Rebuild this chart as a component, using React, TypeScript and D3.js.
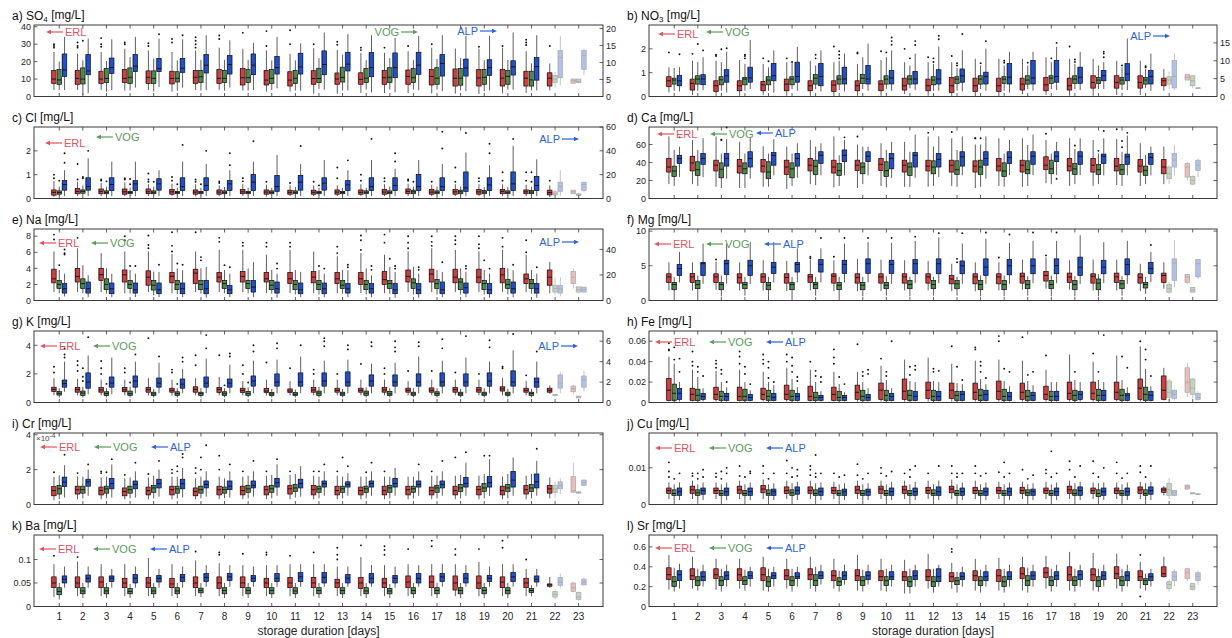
import React from 'react';
import * as d3 from 'd3';

// storage days and the three sampling sites
const days = [1, 2, 3, 4, 5, 6, 7, 8, 9, 10, 11, 12, 13, 14, 15, 16, 17, 18, 19, 20, 21, 22, 23];
const groups = ['ERL', 'VOG', 'ALP'];
// boxes drawn pale (few samples)
const fadedDays = { ERL: [23], VOG: [22, 23], ALP: [22, 23] };

// every box: [whiskerLow, q1, median, q3, whiskerHigh, ...outliers]
const so4ERL = [[3.8,7.5,10,15,25.5,28,29,30],[3.8,7,10.4,15,24.5,28,29,31],[3.8,7.5,10,14.5,25.5,28.5,30,33.5],[3.4,8,10.4,15.5,27.4,30,31],[3.8,7.5,11,14.7,26.4,29,30.5],[2.8,7.2,10.4,14.5,25.5,31,33],[3.8,7.5,11,15,26.4,28,30,32,34],[3.8,7.5,10.4,15.5,28,33,35],[3.4,6.6,10.8,16,27.4,36.5],[2.8,6.6,9.4,15,26.4,29,37.5],[2.8,6,9.4,14.2,24.5,30,38],[1.6,7,10.3,14.8,27.7,30],[1.6,7,10,13.5,26.7,29.7,31.4],[2,7,9.8,13.6,25,26.6,28],[2,7,10.8,15,25,28],[2,7,11.5,15.2,26,29],[1.7,6.6,11.5,15.5,28,30],[1.6,6,10.5,15.8,27.5],[1.5,6,10.6,15.5,27.4,28.5],[1.8,6,10.5,15.6,28,29],[2,6,10.5,14.5,26,29.5,31,32.5],[3.5,6,10.5,13.6,19,29],[7.6,7.6,9,10,10.4]];
const so4VOG = [[3.8,7,9.5,15.5,20],[1,7.2,10,16.4,20.7,32],[2.8,8,10.4,16,20.4],[3.4,7.5,11,16.4,22.6],[2.8,7.5,10.4,14.7,21.7],[3.4,8.3,10.4,14.2,20.7],[3.4,8,11.3,15,21],[3.4,8,10.4,15,21],[3.4,8,10.8,15.5,21],[3.8,7.5,10.4,15.5,20.7],[3.4,7.5,10.4,15,20.7],[4.4,8,10.3,16.2,22],[3.5,8.3,10.9,16.8,24],[4,8,10.5,16,20.8],[4,8,11,16.5,22],[4,8,10.8,16,21],[4,7,10.5,16.5,21.5],[3.5,6.5,10.5,16,22],[3,7,11,15.5,20.8],[4,7,11.5,15,21],[3.5,6,9.5,14.5,19],[5,8,10,12,14],[7.6,8,8.6,10,10]];
const so4ALP = [[1.9,5.9,7.8,12.5,17.5],[1,6.4,7.5,12.3,17],[1.9,6.8,8.5,11.3,16.8],[2.6,7.3,8.9,12.3,17.5],[2.8,7.3,8.2,11.2,17,18.3],[2.6,7.1,8.3,11.2,16.8,18],[1.9,6.9,9.2,12.3,18],[2.6,6.6,9.4,12,16.5],[1.9,6.4,9.2,12.5,15.8],[2.4,6.6,8.5,11.8,17.5],[1.7,6.6,8.7,12.7,15.6],[2,6.4,9.4,13.4,18.8],[1.8,7.5,9.5,13,18.3],[1.2,5.8,8.5,12.9,18],[1.2,5.5,8.5,12.8,17.2],[1.8,6.5,9.2,13,17.8],[1.6,6,9.7,12.3,18],[1.6,6,8.4,11,17.8],[1.8,6.2,8.5,10.8,17.8],[2,6.3,8.7,10.5,18.8],[1.8,4.8,8.8,11.5,18],[3.3,5.5,11.5,13.5,17.8],[6.2,8,12,13.5,14]];

const no3ERL = [[0.17,0.41,0.66,0.83,1.22,1.85],[0.07,0.27,0.55,0.73,1.5,1.79],[0,0.21,0.45,0.66,1.5,1.7,1.75],[0.03,0.24,0.45,0.66,1.53],[0.07,0.24,0.49,0.63,1.37,1.6],[0.03,0.24,0.52,0.73,1.44,1.6],[0.03,0.24,0.45,0.66,1.5],[0,0.21,0.48,0.66,1.44,2.1],[0.03,0.24,0.45,0.66,1.37,1.8,1.85],[0.03,0.24,0.52,0.66,1.53,1.9],[0.1,0.27,0.45,0.77,1.44,2],[0.03,0.24,0.45,0.73,1.44,1.65],[0.03,0.17,0.45,0.8,1.44,1.7],[0,0.21,0.45,0.77,1.58],[0,0.21,0.45,0.77,1.58],[0.1,0.27,0.52,0.77,1.58],[0.07,0.24,0.49,0.8,1.65],[0.03,0.27,0.45,0.77,1.58,2.1],[0.03,0.35,0.59,0.87,1.58],[0.07,0.35,0.59,0.87,1.5],[0.07,0.35,0.59,0.87,1.5],[0.24,0.45,0.66,0.77,1.15],[0.69,0.69,0.8,0.92,0.92]];
const no3VOG = [[0.24,0.52,0.69,0.77,1.2],[0.24,0.52,0.73,0.87,1.44,2.2],[0.24,0.49,0.7,0.83,1.44,1.98],[0.24,0.49,0.73,0.8,1.37,1.6,1.7,1.75],[0.24,0.49,0.69,0.83,1.22,1.48],[0.31,0.49,0.73,0.83,1.4,1.45],[0.31,0.52,0.77,0.92,1.3,1.6,1.75],[0.27,0.52,0.73,0.87,1.5,1.6,1.75,1.9],[0.31,0.55,0.77,0.92,1.65],[0.31,0.52,0.73,0.87,1.65,1.85],[0.35,0.52,0.73,0.87,1.3,1.6],[0.24,0.49,0.69,0.83,1.37,1.45,1.6],[0.24,0.55,0.73,0.83,1.2,1.3,1.4],[0.31,0.52,0.73,0.87,1.3,1.4],[0.24,0.55,0.73,0.83,1.3,1.42,1.5],[0.31,0.52,0.69,0.87,1.3,1.42],[0.31,0.55,0.77,0.87,1.44,1.6],[0.31,0.55,0.73,0.87,1.37,1.45,1.55],[0.31,0.55,0.69,0.8,1.3],[0.27,0.52,0.69,0.8,1.22,1.3],[0.35,0.52,0.69,0.8,1.15,1.22,1.27],[0.31,0.52,0.69,0.83,1.05],[0.35,0.45,0.66,0.87,0.87]];
const no3ALP = [[1.4,3,4.4,5.85,8.2,11.8],[1.8,3.3,4.9,6.1,11,12.9],[1.1,4,5.8,7.5,12.5,13.5],[2.1,4,5.2,8.2,15.8],[1.1,4.4,5.8,9.2,12.9],[1.6,4,5.6,9.6,13.9],[1.4,3,5.6,9.2,12.9],[1.4,3.5,4.9,8.2,12],[1.6,3.5,4.9,8.7,14.8],[1.6,3.5,5.2,7.3,12.9,14.5,15.5,16.5],[1.8,3.5,4.9,7,12,14.4,15.5],[1.6,3.5,4.9,7.5,13.9,16,17],[1.4,4,5.8,7.7,12.9,17.5],[1.6,3.5,5.6,6.8,13.4,15.5],[1.1,3.5,5.4,9.2,12.5],[1.6,3.5,5.2,10.1,12.5],[1.8,4,5.6,10.1,13.9,15],[1.8,3.7,5.4,8.2,12.5],[2.1,4.4,5.8,7.3,9.6,11,12,12.5],[1.8,4.4,6.3,9.2,16.2],[1.6,3.5,5.6,7.3,12],[1.8,2.4,5.6,10.1,12],[2.2,2.3,2.4,2.4,2.5]];

const clERL = [[0.07,0.14,0.26,0.36,0.73,0.85,1],[0.1,0.2,0.3,0.42,0.7,0.8,1.45],[0.1,0.2,0.3,0.4,0.65,0.75,0.8],[0.1,0.18,0.28,0.4,0.68,0.8,0.85],[0.1,0.2,0.28,0.4,0.6,0.7,0.8,1.05],[0.1,0.18,0.28,0.38,0.62,0.75,0.9],[0.08,0.18,0.27,0.36,0.6,0.7,0.8],[0.1,0.18,0.27,0.36,0.55,0.65,0.72],[0.1,0.2,0.28,0.38,0.6,0.72,0.85],[0.08,0.18,0.27,0.36,0.58,0.7],[0.1,0.18,0.26,0.35,0.55,0.65],[0.1,0.18,0.26,0.35,0.55,0.7],[0.1,0.18,0.27,0.36,0.55,0.85,1.3],[0.1,0.18,0.26,0.36,0.6,0.75,1],[0.1,0.18,0.27,0.38,0.6,0.72,0.85],[0.1,0.2,0.3,0.4,0.62,0.75,0.8],[0.1,0.18,0.27,0.38,0.58,0.7],[0.1,0.18,0.28,0.38,0.6,0.7,1.3],[0.1,0.18,0.28,0.38,0.6,0.72,0.85],[0.1,0.2,0.3,0.38,0.6,0.75,1.1],[0.1,0.2,0.28,0.36,0.58,0.75,1.1],[0.05,0.15,0.25,0.35,0.55,0.75],[0.2,0.2,0.28,0.35,0.35]];
const clVOG = [[0.12,0.18,0.25,0.32,0.5,0.75],[0.15,0.22,0.3,0.36,0.55,0.85,0.9],[0.12,0.2,0.26,0.32,0.5,0.72],[0.12,0.2,0.25,0.3,0.45,0.6,0.82],[0.12,0.2,0.26,0.32,0.5,0.7],[0.12,0.2,0.25,0.3,0.45,0.6],[0.12,0.2,0.26,0.3,0.45,0.6],[0.12,0.2,0.26,0.32,0.48],[0.12,0.2,0.25,0.3,0.45],[0.12,0.2,0.26,0.32,0.45],[0.12,0.2,0.26,0.32,0.48],[0.12,0.2,0.25,0.3,0.45,0.55],[0.12,0.2,0.25,0.3,0.45],[0.12,0.2,0.26,0.32,0.45],[0.12,0.2,0.26,0.32,0.5],[0.12,0.2,0.28,0.35,0.5,0.7],[0.12,0.2,0.26,0.32,0.5],[0.12,0.2,0.28,0.35,0.5],[0.12,0.2,0.27,0.33,0.48],[0.12,0.2,0.26,0.32,0.48],[0.12,0.2,0.27,0.33,0.5,0.7,1.1],[0.1,0.15,0.2,0.28,0.35],[0.1,0.12,0.15,0.2,0.22]];
const clALP = [[2,7,11.7,15,23.7,30,38],[2,7,10,17.4,33.7,40],[2,6.6,11.7,17.4,30.9],[2,6.6,12.3,15,30.9],[2,7,12.3,16.6,23.7],[2,6.6,10,17.4,30.9,45],[2,6.6,10.9,17.4,28.9,40],[2,6.6,12.3,15,23.7,28,38],[2,6.6,13.7,20.3,30.9,48],[2,6,10,19.4,36.6],[2,7,13.7,19.4,28.9,44],[2,7,12.9,17.4,32.3],[2,6.6,11.4,15,23.7,32],[2,6.6,10,17.4,32.3,50],[2,6.6,10.9,17.4,25,31,38],[2,6.6,10,20.3,32.3],[2,6.6,10,17.4,28.9,42,56],[2,6,8.9,22.3,38.6,55],[2,6.6,11.4,17.4,28,38,46],[2,6.6,12.3,22.3,44.3,50],[2,6.6,10.9,18.6,32.9],[2.3,6,10,13.7,23.7],[5,6.6,11.7,13.7,14]];

const caERL = [[16,29.4,35,44.5,69],[16,30.6,39.6,47,65],[13,30.6,37,42.6,69],[11.7,28.3,36,43.4,63],[13,29.4,36,43.4,58],[10.6,26.8,35,42.6,57.7],[16,30.6,37,44.5,65],[12.5,28.3,35,42.6,69],[11.7,31,37,42.6,60,69],[14,31,38,44.5,61.5],[13,29.4,37,42.6,63],[13,30.6,36,42.6,69,73],[14,29.4,37,42.6,67,74],[11.7,29.4,36,41.9,60,67,67],[14,30.6,36,44.5,67],[13,29.4,37,42.6,67],[17,32,37,46.4,65,72],[14,30.6,36,44.5,67],[14,29.4,37,44.5,65],[15,30.6,36,44.5,66,77],[14,29.4,36,43.4,61.5],[16,27.5,35,43.4,57.7],[20,23.8,35,38.9,40.8]];
const caVOG = [[14,24.5,30.6,36,54],[14,25.7,32,40.8,54],[11.7,23,32.5,39.6,50,65,65.5],[11.7,27.5,33,39.6,50],[13,22,29.4,40.8,50],[14,23,33,39.6,50],[15,26.8,35.8,42.6,57.7],[14,25.7,31,38.9,48],[16,27.5,35,39.6,57.7],[12.5,24.5,31,40.8,54],[13,25.7,35,39.6,52],[14,27.5,35,41.9,57.7],[13,26.8,32,41.9,54],[13,26.8,35,42.6,60,67],[13,24.5,30.6,39.6,50],[14,27.5,32,41.9,59.6],[16,27.5,33,42.6,50],[16,26.8,33,38.9,55,59],[16,26.8,32,38,50,53],[14,26.8,32,38,52,57,64],[16,25.7,31.3,36,48.3],[16,22,27.5,35,37],[15,16,20,24.5,25.7]];
const caALP = [[23.8,39,44.5,48,57.7,68],[23.8,38,44.5,50,67],[22,36,44.5,50,66,79],[22,35,44.5,52,68],[25.7,37,48,51,66],[23,36,44.5,50,61.5],[25.7,39,48,52,61.5],[25.7,41,48,54,65,68],[25.7,41,47,52,57.7],[23,33,44.5,50,63],[23,35,48,51,71],[24,35,43.4,50,69],[25.7,36,46.4,52,69],[22,37,44.5,52,69],[26,39,45.7,52,65],[26,38,47,52,71],[26,41,47,52,63,22],[26,38,47,52,67],[25.7,39,47,49.4,67,75],[25.7,38,46.4,49.4,70,73],[25.7,38,45.7,50,57.7],[25.7,35,42.6,50,59.6],[23.8,31.3,37,42.6,44.5]];

const naERL = [[1.05,2.2,2.7,3.9,6.1,7.6,8.2],[1.05,2.3,3,4,6.5,7.8],[1.05,2.5,3.2,4,5.9],[0.9,2.3,3.2,3.8,6.1,7.5,8],[1.05,1.9,2.9,3.7,6.1,6.5,6.9,8.1],[0.9,2.2,3,3.5,5.8,6.1,6.8,8.5],[1.05,2.1,3.4,3.9,6.1,8.5],[1.05,2.3,2.9,3.5,6.3,7.3,7.8],[1.05,2.3,3,3.6,6.3,6.8,7.2],[0.9,2.3,2.7,3.5,5.7,6.7,7.2],[0.9,2.1,2.7,3.5,6.3,6.7,7.2],[0.9,2.2,2.9,3.6,6.1],[0.9,2.1,2.7,3.5,5.5,5.9,6.7],[0.9,2,2.7,3.5,5.9,6.3,7.5,8.1],[0.9,2,2.6,3.6,5.7,7.2,8.2],[1.05,2.3,3,3.8,6.1,6.5,7.2,8],[1.05,2.3,3.3,3.9,6.5,6.8,7.3,8],[1.05,2.2,2.9,3.9,6.3,7,7.5,8],[1.05,2.2,2.9,3.9,6.1,6.5,7,8],[1.05,2.2,3.2,4,6.3,6.7,7.8],[1.05,2.1,2.7,3.3,5.7,6,7.5],[0.9,1.9,2.9,3.8,4.8],[1.5,2.1,2.9,3.6,4]];
const naVOG = [[0.9,1.5,2,2.5,3.8,4.4],[0.9,1.5,2.1,2.7,4.4],[0.85,1.35,2,2.7,4],[0.85,1.5,2,2.5,3.8,4.3],[0.65,1.3,1.9,2.5,3.6],[0.8,1.35,2,2.5,4,4.6],[0.85,1.35,2,2.5,4,5,5.4],[0.9,1.5,2.1,2.5,3.8,4.4],[0.9,1.5,2.1,2.5,4],[0.85,1.35,1.9,2.5,3.8],[0.75,1.35,2,2.5,3.8],[0.75,1.35,2,2.5,3.8,4.3],[0.85,1.5,1.9,2.5,3.8],[0.75,1.35,2,2.5,4],[0.85,1.5,2.1,2.5,4.2,5.2],[0.75,1.5,2.2,2.7,4.2],[0.75,1.5,2.1,2.6,3.8],[0.75,1.35,2.3,2.7,4],[0.75,1.35,2.1,2.5,3.8,5],[0.75,1.5,2,2.6,4],[0.85,1.5,2.1,2.6,3.8],[0.65,1.05,1.5,1.9,2.9],[1,1.05,1.35,1.7,1.7]];
const naALP = [[3.2,5.8,9.2,13.2,21,36,37,40],[2.6,5.8,9.2,14.5,19.7],[2.6,5.3,9.2,13.7,21],[2.6,5.8,8.4,13.7,21,27],[2.6,5.3,8.4,13.7,22.4,28],[2.6,5.3,9.2,13.7,23.7,28],[2.1,5.3,9.2,15.8,26.3],[2.6,5.3,8.4,11.8,21,26],[2.6,6.6,10.5,15.8,30],[2.1,5.8,9.2,14.5,21,25,29],[2.6,5.3,8.4,13.7,22.4],[2.6,5.3,9.2,13.7,21,25],[2.6,5.8,9.2,13.2,23.7,26,28],[2.6,5.8,9.2,13.2,19.7,24,27],[2.1,5.3,8.4,13.2,22.4,25,27],[2.1,5.3,8.4,13.2,21,24,26],[2.6,5.3,8.4,14.5,22.4,30],[2.6,5.8,10,13.7,22.4,25,27],[2.1,5.3,8.4,13.2,21,25],[2.6,5.8,9.2,14.5,23.7,28],[2.1,5.8,9.2,13.2,21,26],[3.2,5.8,9.2,11.8,18.4,21],[6.6,6.6,8.4,10.5,10.5]];

const mgERL = [[1.45,2.6,3.4,3.85,5.5],[1.45,2.6,3.4,3.9,5.5],[1.55,2.6,3.4,3.85,5.6,5.9],[1.45,2.5,3.3,3.85,5.5],[1.45,2.6,3.4,3.85,5.8],[1.35,2.5,3.3,3.85,5.7],[1.45,2.6,3.4,3.75,5.9,6.1,6.3],[1.35,2.5,3.5,3.85,5.8,6.3],[1.35,2.5,3.3,3.85,6],[1.35,2.5,3.4,3.85,5.9],[1.45,2.5,3.4,3.85,5.8],[1.45,2.5,3.4,3.85,5.7],[1.35,2.4,3.1,3.6,5.3],[1.35,2.4,3.4,3.85,5.5],[1.45,2.4,3.4,3.85,5.5,6.2],[1.55,2.5,3.5,3.95,5.9],[1.7,2.8,3.6,4.2,6.2,6.5],[1.55,2.6,3.4,3.95,5.8],[1.45,2.5,3.5,3.85,5.9],[1.45,2.6,3.4,3.95,5.9],[1.35,2.5,3.3,3.85,5.3],[1.7,2.6,3.6,3.95,5.5],[2.4,2.6,3.4,3.75,3.85]];
const mgVOG = [[0.5,1.55,2.3,2.6,3.4],[0.5,1.7,2.3,2.9,3.6],[0.6,1.55,2.3,2.6,3.6],[0.7,1.7,2.3,2.6,3.4],[0.4,1.55,2.2,2.6,3.4],[0.5,1.55,2.3,2.6,3.4],[0.7,1.7,2.3,2.6,3.4],[0.5,1.55,2.2,2.6,3.4],[0.6,1.55,2.2,2.6,3.4],[0.7,1.7,2.2,2.6,3.5],[0.6,1.7,2.3,2.9,3.4],[0.7,1.7,2.3,2.9,3.4],[0.7,1.7,2.4,2.9,3.4,5.5,6],[0.6,1.55,2.3,2.9,3.6],[0.6,1.55,2.3,2.9,3.6],[0.7,1.7,2.3,2.9,3.5],[0.6,1.7,2.3,2.9,3.6],[0.6,1.55,2.3,2.9,3.5],[0.6,1.55,2.5,3.1,3.8],[0.7,1.7,2.4,2.9,3.5],[0.95,1.8,2.3,2.6,3.4],[1,1.2,1.7,2.3,2.65],[1.2,1.2,1.5,1.9,1.9]];
const mgALP = [[2.6,3.6,4.6,5.2,7],[2.4,3.6,5.3,5.5,8.2],[2.4,3.75,5.3,5.8,8.2],[2.4,3.6,5,5.8,8.4],[2.6,3.9,4.8,5.5,8.4],[2.6,4.1,5.2,5.5,7.5],[2.6,4.1,5.2,5.9,7.5,9],[2.6,3.9,5.2,5.8,8.2,9],[2.6,3.9,5.3,6,8.4,9],[2.4,3.9,5.2,5.8,8.3,9],[2.5,3.85,5.3,5.9,8.6,9.2],[2.5,3.85,5.3,6,9.1,9.7],[2.4,3.85,5,5.7,8.2,9.7],[2.4,3.6,4.8,6,8.9,9.8],[2.4,3.7,5,5.9,8.3,9.5],[2.5,3.85,5,6,8.6,9.8],[2.5,3.85,5,6,8.6,9.8],[2.4,3.6,4.8,6.25,9.4],[2.5,3.85,4.8,5.8,8.4],[2.4,3.7,5.2,6,8.6],[2.65,3.85,4.6,5.5,7,8],[1.9,2.9,5.4,6,8.7],[3.1,3.4,5.3,5.9,6]];

const kERL = [[0.52,0.76,0.92,1.07,1.7,2.1,2.5],[0.5,0.72,0.9,1.05,1.65,2.2,2.6,2.9],[0.5,0.72,0.88,1.05,1.6,2,2.4,2.9],[0.5,0.75,0.88,1.05,1.6,2.1,2.4],[0.5,0.72,0.9,1.05,1.7,4.5],[0.5,0.72,0.85,1,1.6,2.1,2.3],[0.5,0.72,0.92,1.1,1.7,2.6,3.3],[0.5,0.7,0.92,1.05,1.8,3.3],[0.5,0.7,0.85,1,1.5,2,2.6],[0.5,0.7,0.8,0.98,1.6,2.8],[0.5,0.7,0.8,0.95,1.5,2.4],[0.5,0.72,0.88,1.05,1.6,2,2.3],[0.5,0.72,0.85,1,1.6,2],[0.5,0.72,0.85,1,1.6,2.7],[0.5,0.72,0.88,1.05,1.6,2,2.4],[0.5,0.72,0.85,1,1.5,2.2],[0.5,0.72,0.85,1.02,1.6,2.2],[0.5,0.72,0.9,1.05,1.6,2.1],[0.5,0.72,0.88,1.05,1.6,2],[0.5,0.8,0.95,1.1,1.7,2.4,2.5],[0.5,0.72,0.85,1,1.5,1.9],[0.6,0.72,0.85,1,1.2],[0.6,0.75,0.95,1.15,1.25]];
const kVOG = [[0.35,0.52,0.64,0.76,1],[0.35,0.5,0.66,0.8,1.1,1.5,1.8,2.4],[0.35,0.5,0.62,0.75,1,1.3],[0.35,0.5,0.62,0.8,1.1,1.4],[0.35,0.5,0.6,0.72,0.95],[0.35,0.5,0.62,0.75,1,1.3],[0.35,0.5,0.62,0.72,1],[0.35,0.5,0.62,0.75,1,1.2],[0.35,0.5,0.62,0.78,1.05,1.4],[0.35,0.5,0.6,0.7,0.95],[0.35,0.5,0.58,0.7,0.9],[0.35,0.5,0.65,0.8,1.1],[0.35,0.5,0.6,0.72,0.95],[0.35,0.5,0.65,0.8,1.05],[0.35,0.5,0.6,0.78,1],[0.35,0.5,0.6,0.72,1],[0.35,0.5,0.62,0.75,1],[0.35,0.5,0.6,0.72,0.95],[0.35,0.5,0.6,0.72,1],[0.35,0.5,0.6,0.72,0.95],[0.35,0.5,0.62,0.72,0.95],[0.45,0.48,0.55,0.56,0.56],[0.3,0.32,0.38,0.45,0.45]];
const kALP = [[1.05,1.5,1.85,2.2,4,4.4,4.7,5.3],[0.8,1.4,2,2.9,4.6,6.4],[0.8,1.5,1.9,2.5,4.4],[0.9,1.5,2.1,2.6,4,4.7],[0.9,1.5,1.9,2.4,3.9,4.5],[0.9,1.4,1.8,2.3,3.3,4,4.4],[0.9,1.5,1.9,2.5,4.3,5.3,6.6],[0.9,1.5,1.9,2.3,3.7,4.5,4.8],[0.9,1.6,2.1,2.6,4.1,5,5.6],[0.9,1.6,2,2.8,4.2,5.3,5.8],[0.9,1.6,2,2.9,4.5,5.6],[0.9,1.6,2.1,2.9,4.1,5.5,6,6.3],[0.9,1.6,2,3,4.2,5.2,5.6],[0.9,1.6,2.1,2.7,3.8,5.5,5.9],[0.9,1.6,2,2.7,3.9,5,5.4,6],[0.9,1.6,2,2.8,4.5,5.5,5.9],[0.9,1.6,2,2.9,4.1,5.3,6.2],[0.9,1.6,2,2.8,4.4,6.5],[0.9,1.6,2.1,2.9,4,5.4,6.1],[0.9,1.6,2,3.1,5.1,6.7],[0.9,1.5,2,2.4,4,5],[0.9,1.4,1.9,2.7,3],[1.1,1.5,2.2,2.6,3.1]];

const feERL = [[0.001,0.002,0.012,0.0237,0.045,0.051,0.052,0.058],[0.001,0.002,0.008,0.014,0.032,0.036,0.04,0.05],[0.001,0.003,0.008,0.015,0.031,0.034,0.038,0.041],[0.001,0.002,0.006,0.015,0.032,0.038,0.045,0.05],[0.001,0.003,0.008,0.014,0.03,0.038,0.042,0.047],[0.001,0.003,0.008,0.017,0.034,0.04,0.047],[0.001,0.002,0.006,0.016,0.032,0.04],[0.001,0.002,0.008,0.015,0.03,0.038,0.044,0.052],[0.001,0.003,0.01,0.017,0.03,0.057],[0.001,0.003,0.012,0.019,0.036,0.043],[0.001,0.003,0.011,0.023,0.042],[0.001,0.004,0.012,0.02,0.044],[0.001,0.004,0.012,0.019,0.038,0.055],[0.001,0.003,0.01,0.019,0.041,0.052,0.054],[0.001,0.003,0.011,0.021,0.042,0.06,0.065],[0.001,0.003,0.01,0.019,0.041,0.064],[0.001,0.003,0.008,0.016,0.032,0.046],[0.001,0.003,0.009,0.02,0.047],[0.001,0.003,0.009,0.02,0.04,0.048],[0.001,0.003,0.01,0.02,0.046],[0.001,0.003,0.014,0.023,0.055,0.06],[0.002,0.003,0.012,0.026,0.034],[0.005,0.01,0.02,0.034,0.039]];
const feVOG = [[0.001,0.002,0.009,0.018,0.038,0.042,0.054],[0.001,0.002,0.007,0.013,0.025,0.03,0.035],[0.001,0.002,0.006,0.011,0.02,0.028,0.032],[0.001,0.002,0.006,0.013,0.02,0.028,0.035],[0.001,0.002,0.006,0.012,0.02,0.024,0.034,0.04],[0.001,0.002,0.006,0.012,0.023,0.03,0.036,0.044],[0.001,0.002,0.005,0.01,0.02,0.026,0.031],[0.001,0.002,0.005,0.011,0.018,0.025],[0.001,0.002,0.006,0.012,0.02,0.026,0.03],[0.001,0.002,0.007,0.012,0.022,0.026,0.03],[0.001,0.002,0.007,0.012,0.021,0.027,0.035],[0.001,0.002,0.006,0.012,0.021,0.03,0.033],[0.001,0.002,0.007,0.011,0.019,0.035],[0.001,0.002,0.007,0.013,0.023,0.03,0.036,0.04],[0.001,0.002,0.006,0.013,0.021,0.033],[0.001,0.002,0.006,0.012,0.021,0.027],[0.001,0.002,0.006,0.011,0.02],[0.001,0.002,0.007,0.012,0.022,0.03],[0.001,0.002,0.007,0.013,0.022,0.03],[0.001,0.002,0.007,0.013,0.022,0.045],[0.001,0.002,0.008,0.015,0.033,0.042,0.052],[0.002,0.005,0.01,0.021,0.023],[0.004,0.008,0.014,0.023,0.024]];
const feALP = [[0.001,0.003,0.009,0.0138,0.02,0.03,0.043],[0.001,0.003,0.006,0.009,0.014,0.026],[0.001,0.002,0.006,0.009,0.015,0.02],[0.001,0.002,0.005,0.008,0.012,0.018],[0.001,0.002,0.005,0.009,0.017,0.02],[0.001,0.002,0.006,0.009,0.015,0.021,0.025],[0.001,0.002,0.005,0.007,0.011,0.02,0.025],[0.001,0.002,0.005,0.007,0.01,0.018],[0.001,0.002,0.005,0.008,0.014,0.028,0.032],[0.001,0.002,0.006,0.009,0.014,0.06],[0.001,0.002,0.006,0.011,0.02,0.032,0.036],[0.001,0.002,0.006,0.011,0.02,0.031],[0.001,0.002,0.008,0.011,0.018,0.022],[0.001,0.002,0.008,0.012,0.018,0.024],[0.001,0.002,0.006,0.01,0.016,0.03],[0.001,0.002,0.007,0.01,0.017,0.03],[0.001,0.002,0.006,0.011,0.02],[0.001,0.003,0.008,0.011,0.02],[0.001,0.002,0.007,0.012,0.02,0.066],[0.001,0.002,0.007,0.009,0.015,0.034],[0.001,0.002,0.007,0.011,0.016,0.026],[0.002,0.004,0.008,0.012,0.013],[0.002,0.003,0.005,0.009,0.011]];

// Cr in units of 1e-4 mg/L
const crERL = [[0.25,0.5,0.8,1.03,1.57,1.85],[0.3,0.6,0.85,1.05,1.6,1.8],[0.3,0.55,0.8,1,1.55,1.8,1.9],[0.3,0.5,0.75,0.95,1.5,1.7],[0.3,0.55,0.8,1,1.55,1.75],[0.3,0.55,0.85,1.05,1.6,1.8,2],[0.3,0.5,0.75,0.95,1.5,1.8,2.1],[0.3,0.55,0.85,1.05,1.6,2,2.8],[0.3,0.55,0.8,1.05,1.6,1.9],[0.3,0.55,0.85,1.05,1.65,1.9],[0.3,0.6,0.9,1.1,1.7,1.9],[0.3,0.55,0.85,1.1,1.65,1.9],[0.3,0.55,0.8,1.05,1.65,1.9],[0.3,0.55,0.8,1,1.6],[0.3,0.55,0.8,1.05,1.6,1.9],[0.3,0.55,0.85,1.05,1.6],[0.3,0.55,0.8,1,1.65,1.9],[0.3,0.55,0.8,1.05,1.65,2.7],[0.3,0.55,0.85,1.05,1.65],[0.3,0.55,0.8,1.05,1.6],[0.3,0.6,0.85,1.1,1.65],[0.35,0.65,0.9,1.1,1.55],[0.7,0.7,0.8,1.6,2.4]];
const crVOG = [[0.3,0.6,0.9,1.09,1.67],[0.35,0.65,0.85,1.05,1.6],[0.35,0.65,0.9,1.05,1.6,1.85],[0.35,0.65,0.85,1.05,1.55],[0.35,0.7,0.95,1.1,1.65],[0.35,0.65,0.9,1.05,1.6,1.9,2.2],[0.35,0.65,0.85,1.05,1.6,2,2.7],[0.35,0.65,0.85,1,1.5],[0.35,0.7,0.9,1.1,1.65],[0.35,0.7,0.9,1.1,1.7],[0.4,0.75,0.95,1.15,1.75],[0.35,0.7,0.9,1.05,1.6,1.9],[0.35,0.7,0.9,1.05,1.6,2.7],[0.35,0.7,0.9,1.05,1.6,1.85],[0.35,0.7,0.95,1.1,1.6],[0.35,0.7,0.9,1.05,1.6],[0.35,0.7,0.95,1.1,1.65],[0.35,0.75,0.95,1.15,1.7],[0.35,0.75,0.95,1.2,1.75,2.8],[0.35,0.75,0.95,1.15,1.75],[0.35,0.75,0.95,1.15,1.75],[0.4,0.7,0.9,1.1,1.3],[0.6,0.65,0.7,0.72,0.75]];
const crALP = [[0.4,1.03,1.28,1.57,2.25,2.85],[0.5,1.05,1.3,1.45,2,2.3],[0.4,0.9,1.2,1.5,2.3,2.6],[0.4,0.9,1.15,1.35,1.9,2.4],[0.45,0.95,1.2,1.45,2,2.5],[0.4,0.9,1.2,1.45,2.1,2.7,2.9],[0.45,0.95,1.15,1.35,1.9,3.4],[0.4,0.85,1.05,1.35,1.9,2.3],[0.45,0.95,1.1,1.35,1.9,2.5],[0.5,1,1.25,1.5,2.3,2.6],[0.45,0.95,1.2,1.45,2.2],[0.5,1,1.2,1.35,1.9,2.3],[0.5,1,1.15,1.3,1.8,2.2],[0.5,1,1.2,1.35,1.9,2.4],[0.5,1,1.2,1.5,2.1],[0.5,1,1.15,1.35,1.9,2.3],[0.5,0.95,1.15,1.35,1.9,2.5],[0.5,1,1.2,1.55,2.4,3],[0.5,1,1.25,1.6,2.6,2.8],[0.5,1,1.4,1.9,2.7],[0.5,0.95,1.3,1.75,2.5,3.2],[0.6,0.9,1.1,1.3,1.5],[1.05,1.1,1.25,1.4,1.45]];

const cuERL = [[0.0015,0.003,0.0038,0.0045,0.006,0.0075,0.009,0.0115],[0.0015,0.003,0.004,0.005,0.0065,0.0078,0.0085],[0.0015,0.003,0.0038,0.0045,0.006,0.0075,0.0085],[0.0015,0.003,0.004,0.005,0.0065,0.0078,0.0105],[0.0015,0.0032,0.0042,0.0052,0.0068,0.0085,0.0105],[0.0015,0.003,0.0038,0.0048,0.0065,0.0085,0.012],[0.0015,0.003,0.0038,0.0048,0.0065,0.008,0.0095,0.0105],[0.0015,0.003,0.0038,0.0047,0.0062,0.0085],[0.0015,0.003,0.004,0.005,0.0065,0.008,0.011],[0.0015,0.003,0.0042,0.005,0.0065,0.0085,0.01],[0.0015,0.003,0.004,0.005,0.0065,0.0085],[0.0015,0.003,0.0038,0.0047,0.0065,0.0085],[0.0015,0.0032,0.0042,0.005,0.0068,0.0085,0.0105],[0.0015,0.003,0.0038,0.0047,0.0065,0.0085,0.0105],[0.0015,0.003,0.0038,0.0047,0.0062,0.0088],[0.0015,0.003,0.0038,0.0047,0.0062,0.0095],[0.0015,0.003,0.0038,0.0045,0.0062,0.0085,0.0095],[0.0015,0.003,0.004,0.005,0.0065,0.0095,0.0118],[0.0015,0.003,0.0038,0.0045,0.006,0.0085,0.0118],[0.0015,0.003,0.0038,0.0045,0.006,0.0085,0.0115],[0.0015,0.003,0.004,0.0048,0.0062,0.0088,0.0105],[0.0025,0.0033,0.004,0.0045,0.005],[0.004,0.0042,0.0048,0.0053,0.0055]];
const cuVOG = [[0.001,0.0025,0.003,0.004,0.0055,0.007],[0.001,0.0025,0.0032,0.004,0.0055,0.007,0.0085],[0.001,0.0025,0.003,0.0038,0.0055,0.007,0.009],[0.001,0.0025,0.003,0.0038,0.0055,0.0075],[0.001,0.0025,0.003,0.004,0.0055,0.007],[0.001,0.0025,0.0032,0.004,0.0058,0.0075,0.01],[0.001,0.0025,0.003,0.004,0.0058,0.0075,0.0085,0.0135],[0.001,0.0025,0.003,0.0038,0.0055,0.0075],[0.001,0.0025,0.003,0.0038,0.0055,0.007],[0.001,0.0025,0.003,0.0038,0.0055,0.0078],[0.001,0.0025,0.003,0.0038,0.0055,0.0075,0.0095],[0.001,0.0025,0.003,0.004,0.0055],[0.001,0.0025,0.003,0.0038,0.0055,0.0075,0.0085],[0.001,0.0025,0.003,0.0038,0.0055,0.0078],[0.001,0.0025,0.003,0.0038,0.0055,0.0075,0.0115],[0.001,0.0025,0.0032,0.004,0.0055,0.007],[0.001,0.0025,0.003,0.0038,0.0055,0.0075,0.0145],[0.001,0.0025,0.003,0.004,0.0058,0.0075],[0.001,0.0022,0.003,0.004,0.0058,0.0075],[0.001,0.0025,0.003,0.0038,0.0055,0.0072],[0.001,0.0025,0.003,0.004,0.0058,0.0075],[0.0015,0.0025,0.004,0.0058,0.0072],[0.0028,0.0029,0.003,0.0032,0.0033]];
const cuALP = [[0.0012,0.0025,0.0035,0.0045,0.006,0.0085],[0.0012,0.0028,0.0038,0.0045,0.006,0.0075,0.0095],[0.0012,0.0025,0.0035,0.0045,0.006,0.0085,0.01],[0.0012,0.0025,0.0035,0.0045,0.006,0.0085,0.009],[0.0012,0.0025,0.0035,0.0042,0.0058,0.0085],[0.0012,0.0028,0.0038,0.0048,0.0062,0.0078,0.0095],[0.0012,0.0025,0.0035,0.0045,0.006,0.0085],[0.0012,0.0025,0.0035,0.0042,0.0058,0.008],[0.0012,0.0025,0.0035,0.0042,0.0058,0.0085],[0.0012,0.0025,0.0035,0.0045,0.0062,0.009],[0.0012,0.0025,0.0035,0.0045,0.0062,0.0105],[0.0012,0.0025,0.0035,0.0048,0.0065,0.0105],[0.0012,0.0025,0.0035,0.0045,0.006,0.0085],[0.0012,0.0025,0.0035,0.0045,0.006,0.0085],[0.0012,0.0025,0.0035,0.0045,0.006,0.0085],[0.0012,0.0025,0.0035,0.0042,0.0058,0.008],[0.0012,0.0025,0.0035,0.0045,0.006,0.0085],[0.0012,0.0025,0.0038,0.0048,0.0062,0.0105],[0.0012,0.0025,0.0035,0.0045,0.006,0.01],[0.0012,0.0025,0.0035,0.0045,0.006,0.0085],[0.0012,0.0028,0.0038,0.0048,0.0062,0.0105],[0.0022,0.0025,0.0032,0.0038,0.004],[0.0026,0.0027,0.0028,0.0029,0.003]];

const baERL = [[0.02,0.04,0.05,0.063,0.09,0.108],[0.022,0.04,0.05,0.063,0.095,0.105],[0.022,0.04,0.052,0.063,0.09],[0.022,0.04,0.05,0.06,0.09],[0.022,0.04,0.05,0.062,0.103],[0.022,0.04,0.048,0.06,0.09],[0.022,0.04,0.05,0.063,0.098,0.117],[0.022,0.038,0.05,0.063,0.092,0.11,0.115],[0.022,0.04,0.05,0.063,0.088,0.112],[0.022,0.04,0.05,0.06,0.088,0.11,0.115],[0.022,0.04,0.05,0.062,0.09,0.108],[0.022,0.04,0.05,0.062,0.09,0.115],[0.022,0.04,0.05,0.058,0.085,0.1,0.11,0.125],[0.022,0.038,0.05,0.062,0.105,0.13],[0.022,0.04,0.05,0.06,0.088,0.11,0.12,0.128],[0.022,0.04,0.052,0.065,0.09,0.122],[0.022,0.04,0.052,0.065,0.09,0.128,0.14],[0.022,0.035,0.05,0.065,0.09,0.11,0.122],[0.022,0.038,0.05,0.065,0.095,0.122],[0.022,0.04,0.052,0.063,0.09,0.125,0.14],[0.022,0.04,0.05,0.06,0.08,0.1],[0.04,0.043,0.046,0.048,0.063],[0.03,0.032,0.04,0.05,0.052]];
const baVOG = [[0.015,0.025,0.032,0.04,0.05],[0.018,0.027,0.033,0.04,0.05],[0.018,0.027,0.033,0.04,0.05],[0.018,0.027,0.032,0.038,0.048],[0.018,0.027,0.033,0.04,0.05],[0.018,0.027,0.033,0.04,0.05],[0.02,0.029,0.034,0.039,0.05],[0.018,0.027,0.034,0.04,0.05],[0.018,0.027,0.034,0.04,0.05],[0.018,0.027,0.034,0.04,0.05],[0.018,0.027,0.033,0.04,0.05],[0.018,0.027,0.034,0.04,0.05],[0.018,0.027,0.034,0.04,0.05],[0.018,0.027,0.033,0.04,0.05],[0.018,0.027,0.033,0.038,0.048],[0.018,0.027,0.034,0.04,0.05],[0.018,0.027,0.034,0.04,0.05],[0.018,0.027,0.034,0.04,0.05],[0.018,0.027,0.034,0.04,0.05],[0.018,0.027,0.034,0.04,0.05],[0.022,0.03,0.034,0.038,0.045],[0.015,0.02,0.026,0.032,0.036],[0.012,0.015,0.02,0.03,0.032]];
const baALP = [[0.04,0.05,0.058,0.065,0.085],[0.04,0.052,0.06,0.067,0.085],[0.04,0.053,0.06,0.065,0.08],[0.04,0.05,0.06,0.068,0.085],[0.04,0.052,0.06,0.066,0.08],[0.04,0.053,0.062,0.068,0.085],[0.042,0.053,0.062,0.07,0.088],[0.042,0.055,0.063,0.07,0.088],[0.042,0.053,0.06,0.066,0.085],[0.042,0.053,0.06,0.07,0.088],[0.042,0.053,0.063,0.072,0.09],[0.042,0.05,0.062,0.072,0.09],[0.042,0.05,0.06,0.068,0.085],[0.042,0.05,0.06,0.07,0.088],[0.04,0.05,0.06,0.066,0.085],[0.042,0.05,0.06,0.07,0.088],[0.042,0.053,0.063,0.07,0.09],[0.042,0.05,0.06,0.07,0.088],[0.042,0.053,0.06,0.066,0.085],[0.042,0.053,0.063,0.072,0.09],[0.042,0.052,0.058,0.065,0.08],[0.04,0.045,0.052,0.062,0.07],[0.045,0.046,0.052,0.058,0.062]];

const srERL = [[0.17,0.27,0.32,0.39,0.52],[0.18,0.27,0.31,0.38,0.5],[0.17,0.28,0.32,0.38,0.48],[0.18,0.26,0.32,0.38,0.48],[0.16,0.26,0.32,0.39,0.5],[0.18,0.27,0.31,0.37,0.48],[0.18,0.27,0.32,0.38,0.5],[0.18,0.26,0.31,0.36,0.48],[0.16,0.26,0.31,0.37,0.52],[0.16,0.26,0.3,0.36,0.48],[0.13,0.26,0.3,0.35,0.47],[0.18,0.26,0.3,0.37,0.53],[0.18,0.25,0.3,0.34,0.44,0.55,0.58],[0.16,0.26,0.31,0.36,0.48],[0.16,0.25,0.31,0.37,0.49],[0.16,0.28,0.33,0.39,0.5],[0.18,0.29,0.34,0.39,0.51],[0.16,0.26,0.32,0.4,0.55],[0.16,0.26,0.32,0.38,0.54],[0.18,0.28,0.33,0.4,0.53],[0.18,0.26,0.3,0.36,0.45,0.1,0.52],[0.29,0.3,0.33,0.4,0.5],[0.25,0.28,0.34,0.38,0.39]];
const srVOG = [[0.15,0.2,0.25,0.3,0.39],[0.16,0.21,0.26,0.3,0.38],[0.15,0.21,0.26,0.3,0.38],[0.16,0.22,0.26,0.3,0.37],[0.15,0.2,0.25,0.3,0.38],[0.15,0.21,0.26,0.3,0.38],[0.15,0.21,0.26,0.32,0.4],[0.15,0.21,0.25,0.29,0.36],[0.15,0.21,0.26,0.3,0.37],[0.15,0.21,0.26,0.3,0.38],[0.13,0.2,0.25,0.3,0.38],[0.14,0.2,0.25,0.3,0.38],[0.14,0.22,0.26,0.29,0.35],[0.14,0.21,0.26,0.3,0.37],[0.14,0.2,0.25,0.3,0.38],[0.14,0.21,0.26,0.31,0.39],[0.15,0.21,0.26,0.3,0.38],[0.15,0.21,0.26,0.3,0.38],[0.15,0.2,0.26,0.3,0.38],[0.15,0.21,0.26,0.3,0.38],[0.16,0.22,0.26,0.28,0.33],[0.15,0.18,0.22,0.25,0.27],[0.16,0.17,0.2,0.23,0.24]];
const srALP = [[0.18,0.26,0.32,0.36,0.43],[0.2,0.26,0.3,0.35,0.42],[0.2,0.27,0.31,0.35,0.42],[0.2,0.28,0.31,0.35,0.4],[0.2,0.28,0.31,0.34,0.4],[0.2,0.28,0.3,0.34,0.4],[0.22,0.28,0.31,0.35,0.42],[0.22,0.27,0.31,0.35,0.42],[0.22,0.27,0.31,0.35,0.42],[0.2,0.27,0.3,0.35,0.42],[0.2,0.27,0.31,0.36,0.42],[0.2,0.25,0.3,0.38,0.42],[0.2,0.27,0.3,0.34,0.4],[0.2,0.26,0.3,0.35,0.42],[0.2,0.27,0.3,0.35,0.42],[0.2,0.27,0.31,0.35,0.42],[0.2,0.27,0.31,0.35,0.42],[0.2,0.27,0.32,0.36,0.42],[0.2,0.27,0.31,0.35,0.42],[0.2,0.26,0.31,0.35,0.42],[0.2,0.26,0.3,0.33,0.38],[0.2,0.26,0.3,0.35,0.38],[0.22,0.26,0.3,0.34,0.36]];

// panel layout: column/row, y domains and ticks, and arrow notes [group, direction, arrowX, y]
const panels = [
  { tag: 'a)', el: 'SO', sub: '4', col: 0, row: 0, left: [0, 41], lt: [0, 10, 20, 30, 40], right: [0, 21], rt: [0, 5, 10, 15, 20], data: [so4ERL, so4VOG, so4ALP], notes: [['ERL', 'L', 46, 32], ['VOG', 'R', 401, 32], ['ALP', 'R', 480, 31]] },
  { tag: 'b)', el: 'NO', sub: '3', col: 1, row: 0, left: [0, 3], lt: [0, 1, 2], right: [0, 20], rt: [0, 5, 10, 15], data: [no3ERL, no3VOG, no3ALP], notes: [['ERL', 'L', 658, 34], ['VOG', 'L', 706, 32], ['ALP', 'R', 1153, 36]] },
  { tag: 'c)', el: 'Cl', col: 0, row: 1, left: [0, 3], lt: [0, 1, 2], right: [0, 60], rt: [0, 20, 40, 60], data: [clERL, clVOG, clALP], notes: [['ERL', 'L', 45, 143], ['VOG', 'L', 96, 137], ['ALP', 'R', 562, 139]] },
  { tag: 'd)', el: 'Ca', col: 1, row: 1, left: [0, 79.5], lt: [0, 20, 40, 60], data: [caERL, caVOG, caALP], notes: [['ERL', 'L', 657, 134], ['VOG', 'L', 710, 134], ['ALP', 'L', 756, 133]] },
  { tag: 'e)', el: 'Na', col: 0, row: 2, left: [0, 8.9], lt: [0, 2, 4, 6, 8], right: [0, 56], rt: [0, 20, 40], data: [naERL, naVOG, naALP], notes: [['ERL', 'L', 39, 243], ['VOG', 'L', 91, 243], ['ALP', 'R', 562, 242]] },
  { tag: 'f)', el: 'Mg', col: 1, row: 2, left: [0, 10.3], lt: [0, 5, 10], data: [mgERL, mgVOG, mgALP], notes: [['ERL', 'L', 654, 244], ['VOG', 'L', 706, 244], ['ALP', 'L', 764, 244]] },
  { tag: 'g)', el: 'K', col: 0, row: 3, left: [0, 5], lt: [0, 2, 4], right: [0, 7], rt: [0, 2, 4, 6], data: [kERL, kVOG, kALP], notes: [['ERL', 'L', 40, 346], ['VOG', 'L', 93, 346], ['ALP', 'R', 561, 346]] },
  { tag: 'h)', el: 'Fe', col: 1, row: 3, left: [0, 0.07], lt: [0, 0.02, 0.04, 0.06], data: [feERL, feVOG, feALP], notes: [['ERL', 'L', 655, 342], ['VOG', 'L', 709, 342], ['ALP', 'L', 766, 342]] },
  { tag: 'i)', el: 'Cr', col: 0, row: 4, left: [0, 4.1], lt: [0, 2, 4], exp: true, data: [crERL, crVOG, crALP], notes: [['ERL', 'L', 40, 447], ['VOG', 'L', 94, 447], ['ALP', 'L', 151, 447]] },
  { tag: 'j)', el: 'Cu', col: 1, row: 4, left: [0, 0.0195], lt: [0, 0.01], data: [cuERL, cuVOG, cuALP], notes: [['ERL', 'L', 655, 448], ['VOG', 'L', 709, 448], ['ALP', 'L', 766, 448]] },
  { tag: 'k)', el: 'Ba', col: 0, row: 5, left: [0, 0.152], lt: [0, 0.05, 0.1], data: [baERL, baVOG, baALP], notes: [['ERL', 'L', 39, 549], ['VOG', 'L', 93, 549], ['ALP', 'L', 150, 549]] },
  { tag: 'l)', el: 'Sr', col: 1, row: 5, left: [0, 0.72], lt: [0, 0.2, 0.4, 0.6], data: [srERL, srVOG, srALP], notes: [['ERL', 'L', 655, 548], ['VOG', 'L', 709, 548], ['ALP', 'L', 766, 548]] },
];

const boxFill = { ERL: '#d83b3b', VOG: '#4b8a4b', ALP: '#1d50d6' };
const noteColor = { ERL: '#e2525f', VOG: '#5a9c5a', ALP: '#2d62dc' };
const FONT = 'Liberation Sans, Arial, Helvetica, sans-serif';
const cols = [{ x0: 34, x1: 603 }, { x0: 649, x1: 1217 }];
const fmt = d3.format('~g');

function Note({ g, dir, ax, y }) {
  const c = noteColor[g];
  if (dir === 'L') {
    return (
      <g>
        <line x1={ax + 4} x2={ax + 17} y1={y} y2={y} stroke={c} strokeWidth={1.2} />
        <path d={`M${ax},${y}L${ax + 5},${y - 2.3}L${ax + 5},${y + 2.3}Z`} fill={c} />
        <text x={ax + 19} y={y + 4} fontSize={11} fill={c}>{g}</text>
      </g>
    );
  }
  return (
    <g>
      <text x={ax - 2} y={y + 4} fontSize={11} fill={c} textAnchor="end">{g}</text>
      <line x1={ax} x2={ax + 13} y1={y} y2={y} stroke={c} strokeWidth={1.2} />
      <path d={`M${ax + 17},${y}L${ax + 12},${y - 2.3}L${ax + 12},${y + 2.3}Z`} fill={c} />
    </g>
  );
}

function Panel({ p }) {
  const { x0, x1 } = cols[p.col];
  const top = 25 + p.row * 102;
  const bot = top + 71.5;
  const x = d3.scaleLinear().domain([-0.07, 24.03]).range([x0, x1]);
  const yL = d3.scaleLinear().domain(p.left).range([bot, top]);
  const yR = p.right ? d3.scaleLinear().domain(p.right).range([bot, top]) : null;
  const offs = [-5.3, 0, 5.3];
  const bw = 4.4;
  const tick = 3.5;

  const boxes = [];
  groups.forEach((g, gi) => {
    const y = g === 'ALP' && yR ? yR : yL;
    p.data[gi].forEach((s, di) => {
      const day = days[di];
      const cx = x(day) + offs[gi];
      const [lo, q1, med, q3, hi, ...outs] = s;
      const faded = fadedDays[g].includes(day);
      boxes.push(
        <g key={`${g}${day}`} opacity={faded ? 0.35 : 1}>
          <line x1={cx} x2={cx} y1={y(hi)} y2={y(lo)} stroke="#1a1a1a" strokeWidth={0.7} />
          <rect x={cx - bw / 2 - 1} y={y(q3)} width={bw} height={Math.max(0.5, y(q1) - y(q3))} fill="#b0b0b0" />
          <rect x={cx - bw / 2} y={y(q3)} width={bw} height={Math.max(0.5, y(q1) - y(q3))} fill={boxFill[g]} stroke="#111" strokeWidth={0.7} />
          <line x1={cx - bw / 2} x2={cx + bw / 2} y1={y(med)} y2={y(med)} stroke="#111" strokeWidth={0.9} />
          {!faded && outs.map((o, oi) => (
            <circle key={oi} cx={cx} cy={y(o)} r={0.95} fill="#111" />
          ))}
        </g>
      );
    });
  });

  const rightTicks = yR ? p.rt.map((t) => ({ t, y: yR(t) })) : p.lt.map((t) => ({ t, y: yL(t) }));

  return (
    <g fontFamily={FONT}>
      <text x={x0 - 22} y={top - 5.5} fontSize={12} fill="#111">
        <tspan>{`${p.tag} ${p.el}`}</tspan>
        {p.sub && <tspan fontSize={8} dy={2.5}>{p.sub}</tspan>}
        <tspan dy={p.sub ? -3.5 : -1}>{' [mg/L]'}</tspan>
      </text>
      {boxes}
      <rect x={x0} y={top} width={x1 - x0} height={bot - top} fill="none" stroke="#3a3a3a" strokeWidth={1} />
      {days.map((d) => (
        <g key={d}>
          <line x1={x(d)} x2={x(d)} y1={bot} y2={bot - tick} stroke="#3a3a3a" strokeWidth={0.8} />
          <line x1={x(d)} x2={x(d)} y1={top} y2={top + tick} stroke="#3a3a3a" strokeWidth={0.8} />
        </g>
      ))}
      {p.lt.map((t) => (
        <g key={`l${t}`}>
          <line x1={x0} x2={x0 + tick} y1={yL(t)} y2={yL(t)} stroke="#3a3a3a" strokeWidth={0.8} />
          <text x={x0 - 3} y={yL(t) + 3.2} fontSize={9} textAnchor="end" fill="#262626">{fmt(t)}</text>
        </g>
      ))}
      {rightTicks.map(({ t, y }) => (
        <g key={`r${t}`}>
          <line x1={x1} x2={x1 - tick} y1={y} y2={y} stroke="#3a3a3a" strokeWidth={0.8} />
          {yR && <text x={x1 + 3} y={y + 3.2} fontSize={9} fill="#262626">{fmt(t)}</text>}
        </g>
      ))}
      {p.exp && (
        <text x={x0 + 2} y={top + 8} fontSize={8} fill="#444">
          ×10<tspan dy={-3} fontSize={6.5}>-4</tspan>
        </text>
      )}
      {p.notes.map(([g, dir, ax, y]) => (
        <Note key={g} g={g} dir={dir} ax={ax} y={y} />
      ))}
      {p.row === 5 && (
        <g>
          {days.map((d) => (
            <text key={d} x={x(d)} y={bot + 13} fontSize={10} textAnchor="middle" fill="#262626">{d}</text>
          ))}
          <text x={(x0 + x1) / 2} y={bot + 28} fontSize={12} textAnchor="middle" fill="#262626">storage duration [days]</text>
        </g>
      )}
    </g>
  );
}

export default function App() {
  return (
    <div style={{ position: 'absolute', left: 0, top: 0 }}>
      <svg width={1232} height={638} viewBox="0 0 1232 638" style={{ display: 'block', background: '#fff' }}>
        {panels.map((p) => (
          <Panel key={p.tag} p={p} />
        ))}
      </svg>
    </div>
  );
}
